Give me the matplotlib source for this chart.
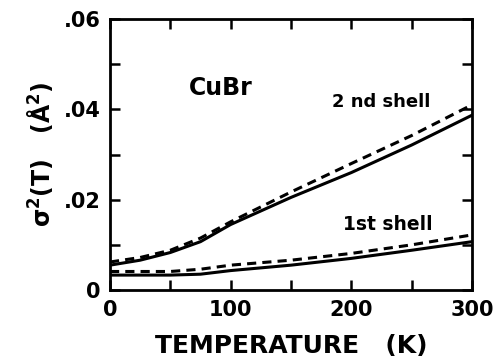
import matplotlib
matplotlib.use("Agg")
import matplotlib.pyplot as plt
from matplotlib.ticker import MultipleLocator, FixedLocator, FixedFormatter

temps = [0, 25, 50, 75, 100, 150, 200, 250, 300]
shell2_solid = [0.0055, 0.0066, 0.0083, 0.0107, 0.0145, 0.0205, 0.0260, 0.0321, 0.0387]
shell2_dashed = [0.0062, 0.0072, 0.0088, 0.0115, 0.0151, 0.0217, 0.0280, 0.0342, 0.0410]
shell1_solid = [0.0033, 0.0033, 0.0033, 0.0035, 0.0043, 0.0055, 0.0070, 0.0088, 0.0107]
shell1_dashed = [0.0041, 0.0041, 0.0041, 0.0046, 0.0055, 0.0066, 0.0081, 0.0100, 0.0122]

ytick_vals = [0, 0.02, 0.04, 0.06]
ytick_labels = ["0", ".02", ".04", ".06"]
xtick_vals = [0, 100, 200, 300]
xtick_labels = ["0", "100", "200", "300"]

fig = plt.figure(figsize=(5.02, 3.59), dpi=100)
ax = fig.add_axes([110/502, 1-290/359, (472-110)/502, (290-19)/359])

ax.plot(temps, shell2_solid, color="black", lw=2.2)
ax.plot(temps, shell2_dashed, color="black", lw=2.2, ls=(0, (3, 2)))
ax.plot(temps, shell1_solid, color="black", lw=2.2)
ax.plot(temps, shell1_dashed, color="black", lw=2.2, ls=(0, (3, 2)))

ax.set_xlim(0, 300)
ax.set_ylim(0, 0.06)
ax.xaxis.set_major_locator(FixedLocator(xtick_vals))
ax.xaxis.set_major_formatter(FixedFormatter(xtick_labels))
ax.xaxis.set_minor_locator(MultipleLocator(50))
ax.yaxis.set_major_locator(FixedLocator(ytick_vals))
ax.yaxis.set_major_formatter(FixedFormatter(ytick_labels))
ax.yaxis.set_minor_locator(MultipleLocator(0.01))
ax.tick_params(which="both", direction="in", top=True, right=True, width=1.8)
ax.tick_params(which="major", length=7, labelsize=15, pad=7)
ax.tick_params(which="minor", length=7)
for lab in ax.get_xticklabels() + ax.get_yticklabels():
    lab.set_fontweight("bold")
for s in ax.spines.values():
    s.set_linewidth(2)

ax.set_xlabel("TEMPERATURE   (K)", fontsize=18, fontweight="bold", labelpad=10)
ax.set_ylabel(r"$\mathbf{\sigma^2}$(T)   (Å$^\mathbf{2}$)", fontsize=17, fontweight="bold", labelpad=6)

ax.text(92, 0.0447, "CuBr", fontsize=17, fontweight="bold", va="center", ha="center")
ax.text(184, 0.0416, "2 nd shell", fontsize=13, fontweight="bold", va="center")
ax.text(193, 0.0145, "1st shell", fontsize=13.5, fontweight="bold", va="center")

fig.savefig("out.png", dpi=100)
